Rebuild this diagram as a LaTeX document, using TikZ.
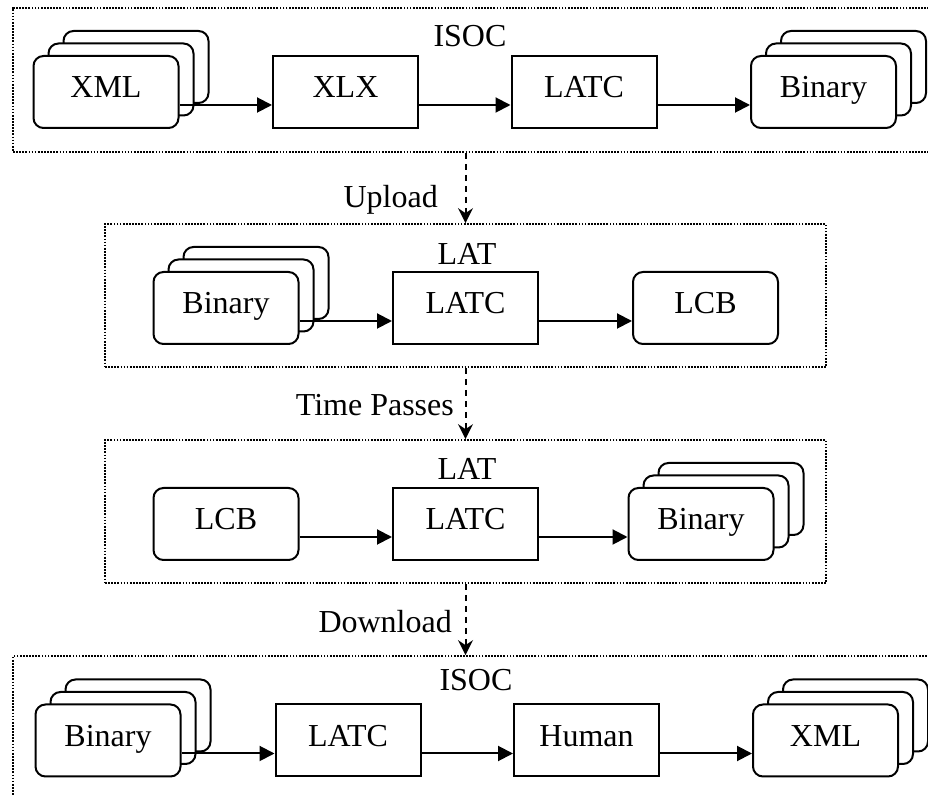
\documentclass[tikz,border=0pt]{standalone}
\usepackage{fontspec}
\setmainfont{Liberation Serif}
\usetikzlibrary{arrows.meta,shadows}

\tikzset{
  every node/.style={font=\fontsize{16}{19}\selectfont},
  box/.style={draw, line width=1pt, fill=white, minimum width=72.5pt, minimum height=36pt, inner sep=0pt,
    text height=10.6pt, text depth=5pt},
  rbox/.style={box, rounded corners=5pt},
  docs/.style={rbox,
    copy shadow={shadow xshift=15pt, shadow yshift=12.5pt, line width=1pt},
    copy shadow={shadow xshift=7.5pt, shadow yshift=6.25pt, line width=1pt}},
  frame/.style={draw, line width=0.85pt, dash pattern=on 0.85pt off 0.7pt, inner sep=0pt},
  flow/.style={line width=1pt, -{Triangle[length=7.5pt,width=7.5pt]}},
  move/.style={line width=1pt, dash pattern=on 3pt off 2.5pt, -{Stealth[length=7.5pt,width=7.5pt,inset=2.5pt]}}
}
% arrow a third of the way up between two boxes
\newcommand{\flowdraw}[2]{\draw[flow] ([yshift=12pt]#1.south east) -- ([yshift=12pt]#2.south west)}

\begin{document}
\begin{tikzpicture}[x=0.5pt, y=-0.5pt]
  \useasboundingbox (0,0) rectangle (928,796);

  % frames
  \node[frame, minimum width=463.5pt, minimum height=72pt] (isocA) at (476.5,80) {};
  \node[frame, minimum width=360.5pt, minimum height=71.5pt] (latB) at (465.5,295.5) {};
  \node[frame, minimum width=360.5pt, minimum height=71.5pt] (latC) at (465.5,511.5) {};
  \node[frame, minimum width=463.5pt, minimum height=77pt] (isocD) at (476.5,733) {};

  \node at (470,36) {ISOC};
  \node at (467,254) {LAT};
  \node at (467,469) {LAT};
  \node at (476,680) {ISOC};

  % first row
  \node[docs] (xmlA) at (106,92) {XML};
  \node[box] (xlxA) at (345.5,92) {XLX};
  \node[box] (latcA) at (584,92) {LATC};
  \node[docs] (binA) at (823.5,92) {Binary};
  \flowdraw{xmlA}{xlxA};
  \flowdraw{xlxA}{latcA};
  \flowdraw{latcA}{binA};

  % second row
  \node[docs] (binB) at (226,308) {Binary};
  \node[box] (latcB) at (465.5,308) {LATC};
  \node[rbox] (lcbB) at (705.5,308) {LCB};
  \flowdraw{binB}{latcB};
  \flowdraw{latcB}{lcbB};

  % third row
  \node[rbox] (lcbC) at (226,524) {LCB};
  \node[box] (latcC) at (465.5,524) {LATC};
  \node[docs] (binC) at (701,524) {Binary};
  \flowdraw{lcbC}{latcC};
  \flowdraw{latcC}{binC};

  % fourth row
  \node[docs] (binD) at (108,740.5) {Binary};
  \node[box] (latcD) at (348,740.5) {LATC};
  \node[box] (human) at (586.5,740.5) {Human};
  \node[docs] (xmlD) at (825.5,740.5) {XML};
  \flowdraw{binD}{latcD};
  \flowdraw{latcD}{human};
  \flowdraw{human}{xmlD};

  % steps between frames
  \draw[move] (latB.north |- isocA.south) -- node[left, pos=0.67, xshift=-10pt] {Upload} (latB.north);
  \draw[move] (latB.south) -- node[left, pos=0.52, xshift=-2pt] {Time Passes} (latC.north);
  \draw[move] (latC.south) -- node[left, pos=0.53, xshift=-3pt] {Download} (latC.south |- isocD.north);
\end{tikzpicture}
\end{document}
